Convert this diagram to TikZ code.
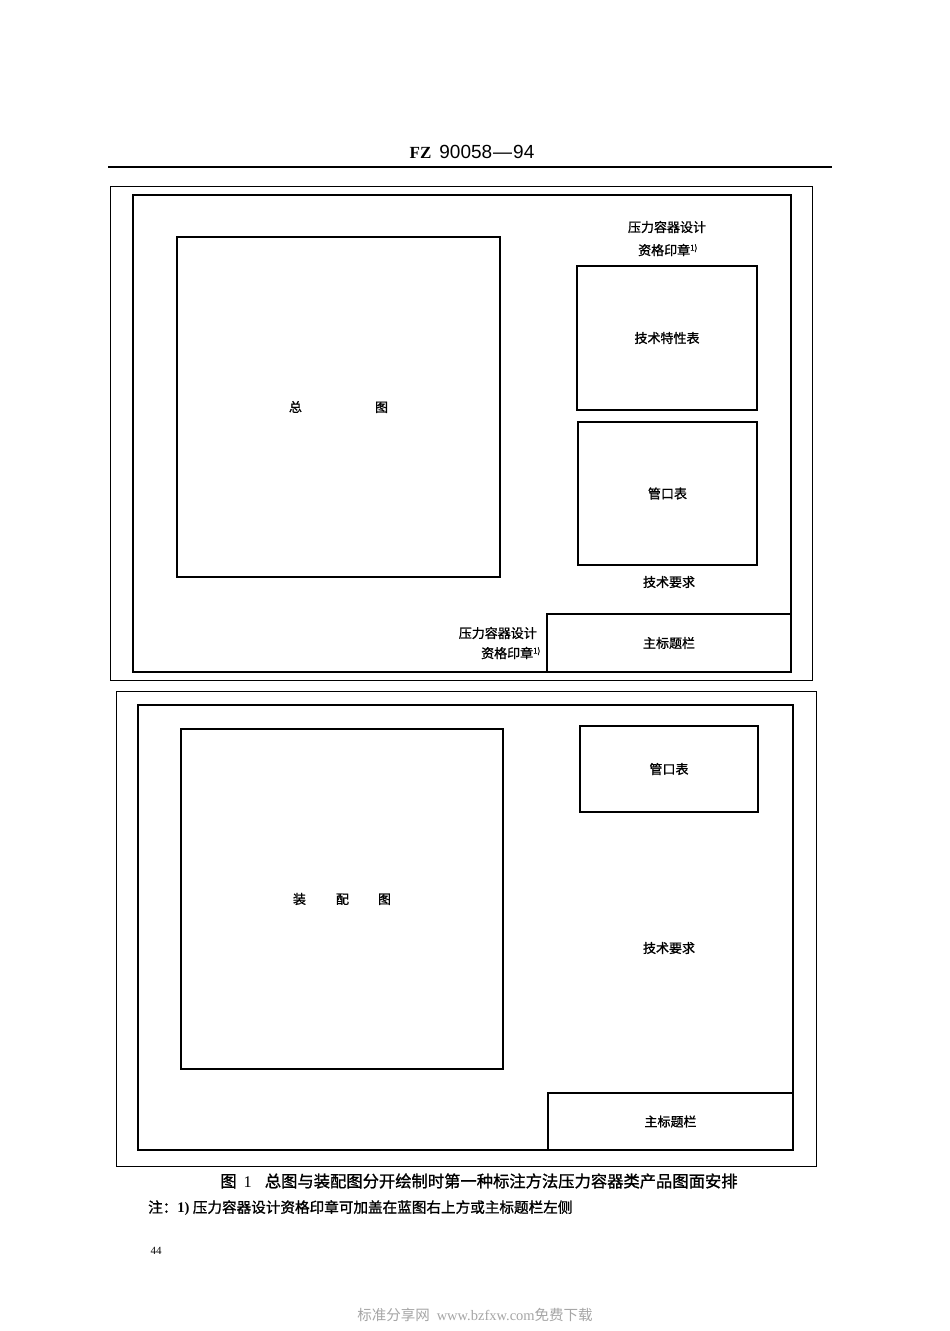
\documentclass[tikz,border=0pt]{standalone}
\usepackage{fontspec}
\setmainfont{Liberation Serif}
\newfontfamily\cjk{Noto Sans CJK SC}
\newfontfamily\cjkb[FakeBold=1.2]{Noto Sans CJK SC}
\newfontfamily\hdsans{Liberation Sans}
\newfontfamily\hdserif{Liberation Serif}
\begin{document}
\begin{tikzpicture}[x=1pt,y=-1pt,
  frameo/.style={draw, line width=1pt, inner sep=0pt, outer sep=0pt},
  framei/.style={draw, line width=1.6pt, inner sep=0pt, outer sep=0pt},
  box/.style={draw, line width=1.3pt, inner sep=0pt, outer sep=0pt, font=\cjkb\fontsize{13}{15}\selectfont},
  lbl/.style={inner sep=0pt, font=\cjkb\fontsize{13}{15}\selectfont},
  ruleline/.style={line width=1.3pt}
]
\fill[white] (0,0) rectangle (950,1331);
\useasboundingbox (0,0) rectangle (950,1331);

% header
\node[inner sep=0pt] (hdr) at (472,152) {{\hdserif\bfseries\fontsize{17}{19}\selectfont FZ}\hspace{8pt}{\hdsans\fontsize{19}{21}\selectfont 90058\kern1pt—\kern1pt94}};
\coordinate (hl) at (108,167);
\coordinate (hr) at (832,167);
\draw[ruleline] (hl) -- (hr);

% ---------- upper drawing ----------
\node[frameo, minimum width=702pt, minimum height=494pt] (outA) at (461,433) {};
\node[framei, minimum width=658pt, minimum height=477pt] (inA) at (462,433.5) {};
\node[box, minimum width=323pt, minimum height=340pt] (zt) at (338.5,407) {总\hspace{73pt}图};
\node[lbl] (stampA1) at (667,227) {压力容器设计};
\node[lbl] (stampA2) at (668,250) {资格印章\textsuperscript{\fontsize{8}{9}\selectfont 1)}};
\node[box, minimum width=180pt, minimum height=144pt] (jstx) at (667,338) {技术特性表};
\node[box, minimum width=179pt, minimum height=143pt] (gkbA) at (667.5,493.5) {管口表};
\node[lbl] (jsyqA) at (669,582) {技术要求};
\node[box, minimum width=244pt, minimum height=58pt] (btlA) at (669,643) {主标题栏};
\node[lbl, anchor=east] (stampB1) at (537,633) {压力容器设计};
\node[lbl, anchor=east] (stampB2) at (541,653) {资格印章\textsuperscript{\fontsize{8}{9}\selectfont 1)}};

% ---------- lower drawing ----------
\node[frameo, minimum width=700pt, minimum height=475pt] (outB) at (466,928.5) {};
\node[framei, minimum width=655pt, minimum height=445pt] (inB) at (465.5,927.5) {};
\node[box, minimum width=322pt, minimum height=340pt] (zpt) at (342,899) {装\hspace{30pt}配\hspace{29pt}图};
\node[box, minimum width=178pt, minimum height=86pt] (gkbB) at (669,769) {管口表};
\node[lbl] (jsyqB) at (669,948) {技术要求};
\node[box, minimum width=245pt, minimum height=57pt] (btlB) at (670.5,1121.5) {主标题栏};

% ---------- caption and note ----------
\node[inner sep=0pt, font=\cjkb\fontsize{16.3}{18}\selectfont] (cap) at (479,1181) {图\hspace{7pt}{\hdserif 1}\hspace{13pt}总图与装配图分开绘制时第一种标注方法压力容器类产品图面安排};
\node[inner sep=0pt, anchor=west, font=\cjkb\fontsize{14.6}{17}\selectfont] (note) at (148,1208) {注：{\hdserif\bfseries 1)} 压力容器设计资格印章可加盖在蓝图右上方或主标题栏左侧};
\node[inner sep=0pt, font=\hdserif\fontsize{11}{13}\selectfont] (pg) at (156,1251) {44};
\node[inner sep=0pt, text=black!35, font=\cjk\fontsize{14.5}{16}\selectfont] (wm) at (475,1315) {标准分享网\hspace{7pt}{\hdserif www.bzfxw.com}免费下载};
\end{tikzpicture}
\end{document}
